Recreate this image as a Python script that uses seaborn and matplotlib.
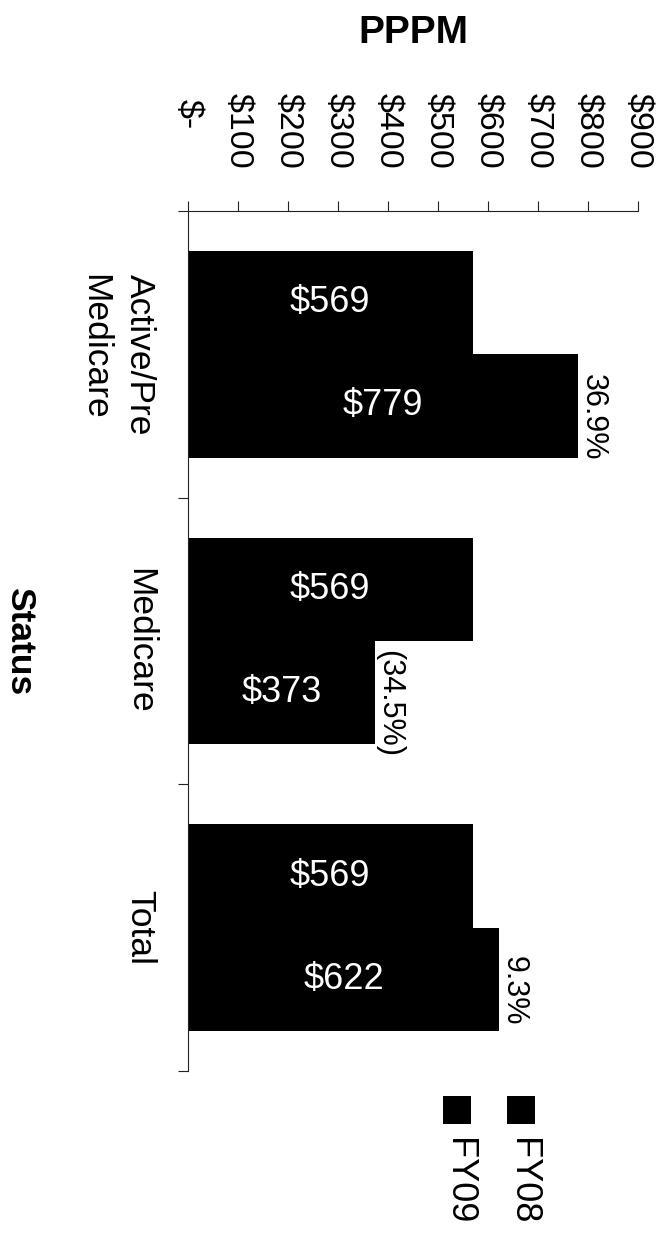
import pandas as pd
import matplotlib
matplotlib.use('Agg')
import matplotlib.pyplot as plt
from matplotlib.patches import Rectangle
from matplotlib.transforms import ScaledTranslation
import seaborn as sns

# Values
statuses = ['Active/Pre\nMedicare', 'Medicare', 'Total']
years = ['FY08', 'FY09']
fy08 = [569, 569, 569]
fy09 = [779, 373, 622]
changes = ['36.9%', '(34.5%)', '9.3%']
x_ticks = [0, 100, 200, 300, 400, 500, 600, 700, 800, 900]
x_tick_labels = ['$-', '$100', '$200', '$300', '$400', '$500', '$600', '$700', '$800', '$900']

df = pd.DataFrame({
    'Status': statuses * 2,
    'Year': ['FY08'] * 3 + ['FY09'] * 3,
    'PPPM': fy08 + fy09,
})

sns.set_style('white')
plt.rcParams['font.family'] = ['Liberation Sans', 'DejaVu Sans']
plt.rcParams['text.color'] = 'black'
plt.rcParams['axes.labelcolor'] = 'black'
plt.rcParams['xtick.color'] = 'black'
plt.rcParams['ytick.color'] = 'black'

colors = {'FY08': '#000000', 'FY09': '#000000'}

fig = plt.figure(figsize=(6.63, 12.37), dpi=100)
ax = fig.add_axes([0.2836, 0.1342, 0.6787, 0.6952])

sns.barplot(data=df, y='Status', x='PPPM', hue='Year', order=statuses,
            hue_order=years, palette=colors, width=0.72, saturation=1,
            linewidth=0, errorbar=None, legend=False, orient='h', ax=ax)

ax.set_xlim(0, 900)
ax.set_ylim(2.5, -0.5)

# value axis on top, labels turned like the page
ax.xaxis.tick_top()
ax.set_xticks(x_ticks)
ax.set_xticklabels(x_tick_labels, rotation=-90, fontsize=24.5, color='black')
ax.tick_params(axis='x', which='major', direction='out', length=7.2, width=0.8,
               color='#222222', pad=23, top=True, bottom=False,
               labeltop=True, labelbottom=False)

# category axis: labels at centres, tick marks between groups
ax.set_yticks([0, 1, 2])
ax.set_yticklabels(statuses, rotation=-90, fontsize=25.5, va='center',
                   ha='right', multialignment='left', linespacing=1.45,
                   color='black')
ax.set_yticks([-0.5, 0.5, 1.5, 2.5], minor=True)
ax.tick_params(axis='y', which='major', length=0, pad=23, left=True)
ax.tick_params(axis='y', which='minor', direction='out', length=7.2, width=0.8,
               color='#222222', left=True)

for side in ['right', 'bottom']:
    ax.spines[side].set_visible(False)
for side in ['top', 'left']:
    ax.spines[side].set_color('#222222')
    ax.spines[side].set_linewidth(0.8)

ax.set_xlabel('PPPM', fontsize=28, fontweight='bold', color='black')
ax.xaxis.set_label_position('top')
ax.xaxis.set_label_coords(0.5, 1.207)
ax.xaxis.label.set_va('center')

ax.set_ylabel('Status', fontsize=25.5, fontweight='bold', rotation=-90,
              color='black')
ax.yaxis.set_label_coords(-0.375, 0.5)
ax.yaxis.label.set_va('center')
ax.yaxis.label.set_ha('center')

# value labels inside the bars
for cont, vals in zip(ax.containers, [fy08, fy09]):
    ax.bar_label(cont, labels=[f'${v}' for v in vals], label_type='center',
                 color='white', fontsize=26)

# change labels past the FY09 bars
anns = ax.bar_label(ax.containers[1], labels=changes, padding=1,
                    rotation=-90, fontsize=22, color='black')
for a in anns:
    a.xyann = (0, -8)

# "$-" sits higher, like the accounting format
zero_lab = ax.xaxis.get_major_ticks()[0].label2
zero_lab.set_transform(zero_lab.get_transform()
                       + ScaledTranslation(0, 0.40, fig.dpi_scale_trans))

# legend drawn by hand so it can be turned
W, H = 663, 1237
for yr, x0 in zip(years, [507, 443]):
    fig.add_artist(Rectangle((x0 / W, 1 - 1124 / H), 28 / W, 28 / H,
                             transform=fig.transFigure, color=colors[yr], lw=0))
    fig.text((x0 + 15) / W, 1 - 1138 / H, yr, rotation=-90, ha='center',
             va='top', fontsize=26, color='black')

fig.savefig('out.png', dpi=100)
